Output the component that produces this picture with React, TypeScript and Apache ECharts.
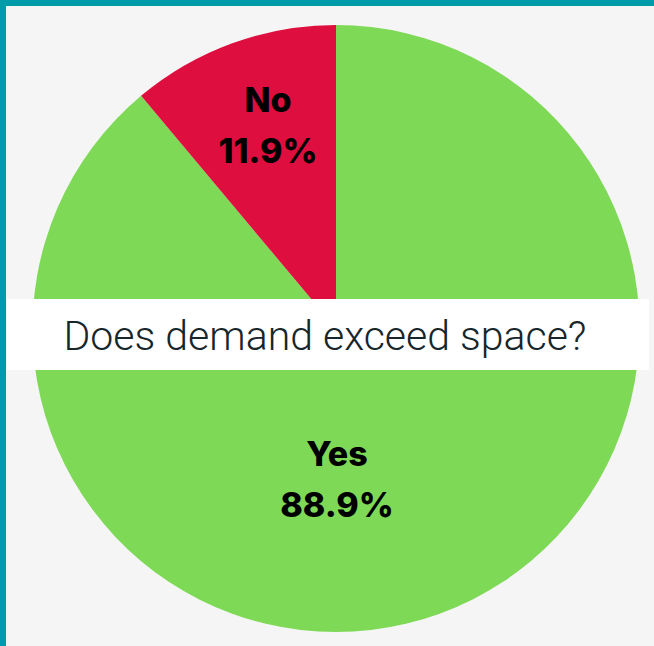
import React, { useEffect, useRef } from "react";
import * as echarts from "echarts";

const categories = ["Yes", "No"];
const values = [88.9, 11.1];
const labelValues = ["88.9%", "11.9%"];
const colors = ["#7ED957", "#DE0E3F"];
const titleText = "Does demand exceed space?";

export default function App() {
  const ref = useRef<HTMLDivElement>(null);
  useEffect(() => {
    document.body.style.margin = "0";
    const chart = echarts.init(ref.current!, null, { renderer: "svg" });
    const labelPos = [
      { x: 337, y: 479 },
      { x: 268, y: 125 },
    ];
    chart.setOption({
      animation: false,
      backgroundColor: "#F5F5F5",
      series: [
        {
          type: "pie",
          center: [336, 328.5],
          radius: [0, 303.5],
          startAngle: 90,
          clockwise: true,
          avoidLabelOverlap: false,
          itemStyle: { borderWidth: 0 },
          label: {
            show: true,
            position: "inside",
            formatter: (p: any) => `${p.name}\n${labelValues[p.dataIndex]}`,
            fontFamily: "Inter",
            fontWeight: 800,
            fontSize: 34,
            lineHeight: 51,
            color: "#000",
            align: "center",
            verticalAlign: "middle",
          },
          labelLine: { show: false },
          labelLayout: (params: any) => labelPos[params.dataIndex],
          emphasis: { disabled: true },
          data: categories.map((c, i) => ({
            name: c,
            value: values[i],
            itemStyle: { color: colors[i] },
          })),
        },
      ],
      graphic: [
        { type: "rect", z: 100, shape: { x: 0, y: 0, width: 654, height: 6 }, style: { fill: "#009BA8" } },
        { type: "rect", z: 100, shape: { x: 0, y: 0, width: 6, height: 646 }, style: { fill: "#009BA8" } },
        { type: "rect", z: 100, shape: { x: 7, y: 299, width: 642, height: 71 }, style: { fill: "#FFFFFF" } },
        {
          type: "text",
          z: 101,
          x: 325,
          y: 336,
          style: {
            text: titleText,
            fontFamily: "Roboto",
            fontWeight: 300,
            fontSize: 41,
            fill: "#16262B",
            align: "center",
            verticalAlign: "middle",
          },
        },
      ],
    });
    return () => chart.dispose();
  }, []);
  return <div ref={ref} style={{ position: "absolute", left: 0, top: 0, width: 654, height: 646 }} />;
}
